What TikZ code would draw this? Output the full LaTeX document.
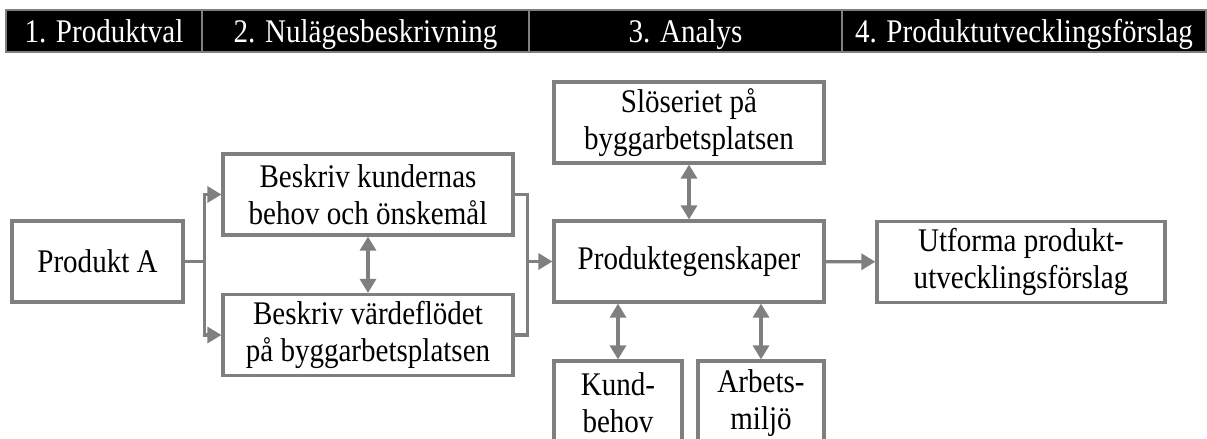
\documentclass[tikz,border=0pt]{standalone}
\usepackage{fontspec}
\setmainfont{Liberation Serif}[FakeStretch=0.88]
\usetikzlibrary{arrows.meta,positioning,calc}
\definecolor{flowgray}{HTML}{7F7F7F}

\begin{document}
\begin{tikzpicture}[
  x=0.5pt,y=-0.5pt,
  font=\fontsize{16.5}{18.5}\selectfont,
  >={Triangle[length=7pt,width=8pt]},
  phase/.style={draw=flowgray,line width=0.8pt,fill=black,text=white,
    minimum height=21pt,inner sep=0pt,text height=12pt,text depth=1pt},
  stepbox/.style={draw=flowgray,line width=1.6pt,fill=white,align=center,
    minimum height=40.5pt,inner sep=2pt},
  flow/.style={->,line width=1.6pt,draw=flowgray},
  link/.style={line width=1.6pt,draw=flowgray},
  mutual/.style={<->,line width=1.6pt,draw=flowgray}
]
  \useasboundingbox (0,0) rectangle (1207,439);

  % phase header
  \node[phase,minimum width=98pt] (ph1) at (104,31) {1. Produktval};
  \node[phase,minimum width=163.5pt] (ph2) at (365.5,31) {2. Nulägesbeskrivning};
  \node[phase,minimum width=156.5pt] (ph3) at (685.5,31) {3. Analys};
  \node[phase,minimum width=182pt] (ph4) at (1024,31)
    {4. Produktutvecklingsförslag};

  % steps
  \node[stepbox,minimum width=85.5pt] (prodA) at (97.5,261.5) {Produkt A};
  \node[stepbox,minimum width=145pt] (kund) at (368,194.5)
    {Beskriv kundernas\\behov och önskemål};
  \node[stepbox,minimum width=145pt] (varde) at (368,335)
    {Beskriv värdeflödet\\på byggarbetsplatsen};
  \node[stepbox,minimum width=135pt] (sloseri) at (689,122.5)
    {Slöseriet på\\byggarbetsplatsen};
  \node[stepbox,minimum width=135pt] (egenskap) at (689,261.5)
    {Produktegenskaper};
  \node[stepbox,minimum width=144pt] (utforma) at (1021,262)
    {Utforma produkt-\\utvecklingsförslag};
  \node[stepbox,minimum width=64pt,minimum height=42pt] (kundbehov)
    at (618,403) {Kund-\\behov};
  \node[stepbox,minimum width=63pt,minimum height=42pt] (arbetsmiljo)
    at (761,403) {Arbets-\\miljö};

  % connectors
  \draw[link] (prodA.east) -- ++(20,0) coordinate (split);
  \draw[flow] (split) |- (kund.west);
  \draw[flow] (split) |- (varde.west);
  \coordinate (merge) at ($(egenskap.west)+(-25,0)$);
  \draw[link] (kund.east) -| (merge);
  \draw[link] (varde.east) -| (merge);
  \draw[flow] (merge) -- (egenskap.west);
  \draw[flow] (egenskap) -- (utforma);
  \draw[mutual] (kund) -- (varde);
  \draw[mutual] (sloseri) -- (egenskap);
  \draw[mutual] (kundbehov.north) -- (kundbehov.north |- egenskap.south);
  \draw[mutual] (arbetsmiljo.north) -- (arbetsmiljo.north |- egenskap.south);
\end{tikzpicture}
\end{document}
